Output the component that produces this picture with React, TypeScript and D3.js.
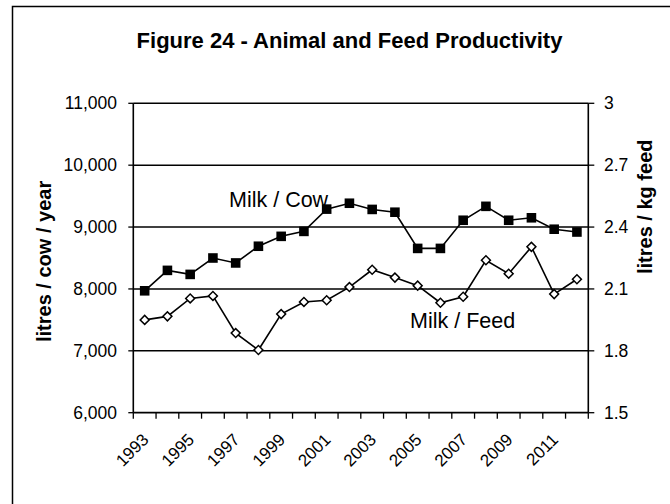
import React from 'react';
import * as d3 from 'd3';

// Chart values
const years = ['1993', '1994', '1995', '1996', '1997', '1998', '1999', '2000', '2001', '2002',
  '2003', '2004', '2005', '2006', '2007', '2008', '2009', '2010', '2011', '2012'];

// litres / cow / year (left axis)
const milkPerCow = [7970, 8300, 8235, 8500, 8420, 8690, 8850, 8930, 9290, 9385,
  9285, 9240, 8655, 8655, 9110, 9335, 9110, 9150, 8965, 8920];

// litres / kg feed (right axis)
const milkPerFeed = [1.95, 1.967, 2.054, 2.066, 1.886, 1.804, 1.978, 2.037, 2.045, 2.109,
  2.193, 2.155, 2.116, 2.033, 2.062, 2.239, 2.174, 2.304, 2.075, 2.147];

const leftTicks = [6000, 7000, 8000, 9000, 10000, 11000];
const rightTicks = [1.5, 1.8, 2.1, 2.4, 2.7, 3];
const rightTickLabels = ['1.5', '1.8', '2.1', '2.4', '2.7', '3'];

const title = 'Figure 24 - Animal and Feed Productivity';
const leftTitle = 'litres / cow / year';
const rightTitle = 'litres / kg feed';

const W = 670;
const H = 504;
const font = '"Liberation Sans", Arial, sans-serif';

export default function App() {
  const plot = { left: 133.3, right: 588.3, top: 103.3, bottom: 412.7 };

  const x = d3.scaleBand<string>().domain(years).range([plot.left, plot.right]).padding(0);
  const yL = d3.scaleLinear().domain([6000, 11000]).range([plot.bottom, plot.top]);
  const yR = d3.scaleLinear().domain([1.5, 3]).range([plot.bottom, plot.top]);
  const cx = (yr: string) => (x(yr) ?? 0) + x.bandwidth() / 2;

  const cowLine = d3.line<number>().x((_, i) => cx(years[i])).y(d => yL(d));
  const feedLine = d3.line<number>().x((_, i) => cx(years[i])).y(d => yR(d));

  const squarePath = d3.symbol(d3.symbolSquare, 92)() || '';
  const diamondPath = d3.symbol(d3.symbolSquare, 40)() || '';

  const fmt = d3.format(',');
  const boundaries = [...years.map(yr => x(yr) ?? 0), plot.right];

  return (
    <svg width={W} height={H} viewBox={`0 0 ${W} ${H}`}
      style={{ position: 'absolute', left: 0, top: 0, background: '#fff' }}
      fontFamily={font}>
      <rect x={0} y={0} width={W} height={H} fill="#fff" />
      {/* outer frame */}
      <path d={`M12.5,${H + 2} V6.5 H${W + 2}`} fill="none" stroke="#000" strokeWidth={1.5} />

      <text x={349.5} y={47.5} textAnchor="middle" fontSize={22} fontWeight="bold">{title}</text>

      {/* gridlines */}
      {leftTicks.slice(1).map(t => (
        <line key={t} x1={plot.left} x2={plot.right} y1={yL(t)} y2={yL(t)} stroke="#000" strokeWidth={1.5} />
      ))}

      {/* left axis */}
      <line x1={plot.left} x2={plot.left} y1={plot.top} y2={plot.bottom} stroke="#000" strokeWidth={1.6} />
      {leftTicks.map(t => (
        <g key={t}>
          <line x1={plot.left - 5} x2={plot.left} y1={yL(t)} y2={yL(t)} stroke="#000" strokeWidth={1.3} />
          <text x={117} y={yL(t)} dy="0.35em" textAnchor="end" fontSize={17.5}>{fmt(t)}</text>
        </g>
      ))}

      {/* right axis */}
      <line x1={plot.right} x2={plot.right} y1={plot.top} y2={plot.bottom} stroke="#000" strokeWidth={1.6} />
      {rightTicks.map((t, i) => (
        <g key={t}>
          <line x1={plot.right} x2={plot.right + 6} y1={yR(t)} y2={yR(t)} stroke="#000" strokeWidth={1.3} />
          <text x={604} y={yR(t)} dy="0.35em" textAnchor="start" fontSize={17.5}>{rightTickLabels[i]}</text>
        </g>
      ))}

      {/* bottom axis */}
      <line x1={plot.left} x2={plot.right} y1={plot.bottom} y2={plot.bottom} stroke="#000" strokeWidth={1.8} />
      {boundaries.map((b, i) => (
        <line key={i} x1={b} x2={b} y1={plot.bottom} y2={plot.bottom + 6} stroke="#000" strokeWidth={1.3} />
      ))}
      {years.map((yr, i) => i % 2 === 0 ? (
        <text key={yr} transform={`translate(${cx(yr) + 5},${plot.bottom + 28}) rotate(-45)`}
          textAnchor="end" fontSize={17}>{yr}</text>
      ) : null)}

      {/* axis titles */}
      <text transform={`translate(51,342) rotate(-90)`} textAnchor="start" fontSize={20} fontWeight="bold">{leftTitle}</text>
      <text transform={`translate(652,274) rotate(-90)`} textAnchor="start" fontSize={20} fontWeight="bold">{rightTitle}</text>

      {/* series */}
      <path d={cowLine(milkPerCow) || ''} fill="none" stroke="#000" strokeWidth={1.6} />
      {milkPerCow.map((v, i) => (
        <path key={i} d={squarePath} transform={`translate(${cx(years[i])},${yL(v)})`} fill="#000" />
      ))}
      <path d={feedLine(milkPerFeed) || ''} fill="none" stroke="#000" strokeWidth={1.6} />
      {milkPerFeed.map((v, i) => (
        <path key={i} d={diamondPath} transform={`translate(${cx(years[i])},${yR(v)}) rotate(45)`}
          fill="#fff" stroke="#000" strokeWidth={1.5} />
      ))}

      {/* series labels */}
      <text x={229} y={207} fontSize={21.5}>Milk / Cow</text>
      <text x={410} y={328} fontSize={21.5}>Milk / Feed</text>
    </svg>
  );
}
